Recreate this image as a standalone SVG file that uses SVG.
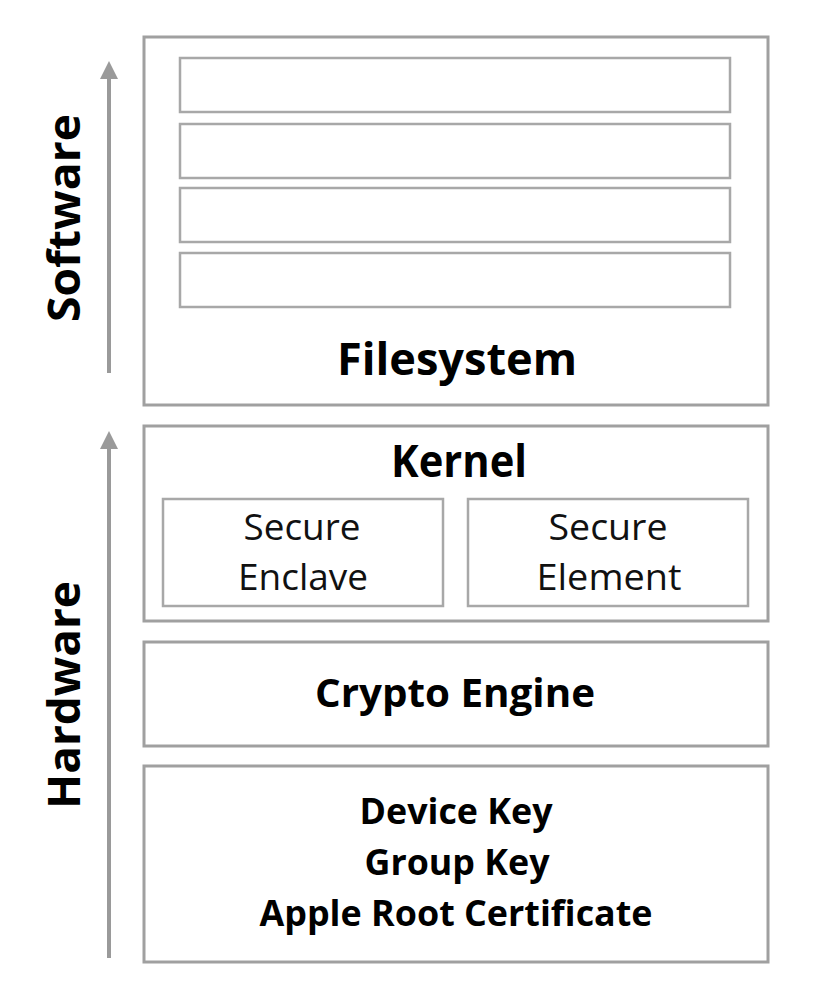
<svg xmlns="http://www.w3.org/2000/svg" width="840" height="996" viewBox="0 0 840 996">
<defs>
<style>
.box{fill:#fff;stroke:#a0a0a0;stroke-width:3}
.inner{fill:#fff;stroke:#a8a8a8;stroke-width:2.5}
.b{font-family:"Open Sans","Liberation Sans",sans-serif;font-weight:bold;fill:#000;text-anchor:middle}
.r{font-family:"Open Sans","Liberation Sans",sans-serif;font-weight:normal;fill:#111;text-anchor:middle}
.arrow{stroke:#9a9a9a;stroke-width:4;fill:none}
</style>
<marker id="ah" viewBox="0 0 10 10" refX="5" refY="5" markerWidth="4.5" markerHeight="4.5" orient="auto" markerUnits="strokeWidth">
<path d="M0,0 L10,5 L0,10 z" fill="#9a9a9a"/>
</marker>
</defs>
<rect width="840" height="996" fill="#fff"/>
<g id="connectors">
<line class="arrow" x1="109" y1="373" x2="109" y2="70" marker-end="url(#ah)"/>
<line class="arrow" x1="109" y1="958" x2="109" y2="440" marker-end="url(#ah)"/>
</g>
<g id="label-software">
<text class="b" font-size="45" transform="translate(80,218) rotate(-90)" textLength="208" lengthAdjust="spacingAndGlyphs">Software</text>
</g>
<g id="label-hardware">
<text class="b" font-size="45" transform="translate(80,695) rotate(-90)" textLength="228" lengthAdjust="spacingAndGlyphs">Hardware</text>
</g>
<g id="filesystem">
<rect class="box" x="144" y="37" width="624" height="368"/>
<rect class="inner" x="180" y="58" width="550" height="54"/>
<rect class="inner" x="180" y="124" width="550" height="54"/>
<rect class="inner" x="180" y="188" width="550" height="54"/>
<rect class="inner" x="180" y="253" width="550" height="54"/>
<text class="b" font-size="45" x="457" y="375" textLength="240" lengthAdjust="spacingAndGlyphs">Filesystem</text>
</g>
<g id="kernel">
<rect class="box" x="144" y="426" width="624" height="195"/>
<text class="b" font-size="44" x="459" y="477" textLength="136" lengthAdjust="spacingAndGlyphs">Kernel</text>
</g>
<g id="secure-enclave">
<rect class="inner" x="163" y="499" width="280" height="107"/>
<text class="r" font-size="36" x="302" y="540" textLength="117" lengthAdjust="spacingAndGlyphs">Secure</text>
<text class="r" font-size="36" x="303" y="590" textLength="130" lengthAdjust="spacingAndGlyphs">Enclave</text>
</g>
<g id="secure-element">
<rect class="inner" x="468" y="499" width="280" height="107"/>
<text class="r" font-size="36" x="608" y="540" textLength="119" lengthAdjust="spacingAndGlyphs">Secure</text>
<text class="r" font-size="36" x="609" y="590" textLength="145" lengthAdjust="spacingAndGlyphs">Element</text>
</g>
<g id="crypto-engine">
<rect class="box" x="144" y="642" width="624" height="104"/>
<text class="b" font-size="40" x="455" y="707" textLength="280" lengthAdjust="spacingAndGlyphs">Crypto Engine</text>
</g>
<g id="keys">
<rect class="box" x="144" y="766" width="624" height="196"/>
<text class="b" font-size="36" x="456" y="824" textLength="193" lengthAdjust="spacingAndGlyphs">Device Key</text>
<text class="b" font-size="36" x="457" y="875" textLength="185" lengthAdjust="spacingAndGlyphs">Group Key</text>
<text class="b" font-size="36" x="456" y="926" textLength="393" lengthAdjust="spacingAndGlyphs">Apple Root Certificate</text>
</g>
</svg>
